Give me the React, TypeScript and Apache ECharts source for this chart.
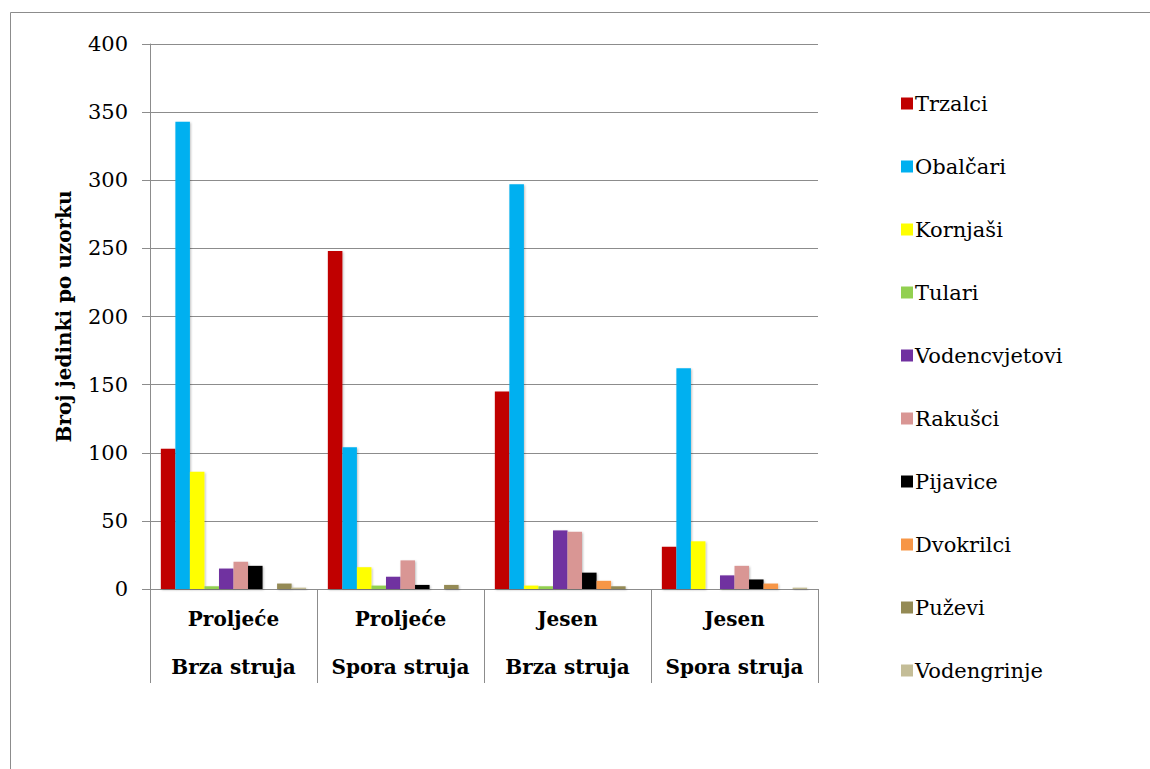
import React, { useEffect, useRef } from "react";
import * as echarts from "echarts";

const categories = ["Proljeće\nBrza struja", "Proljeće\nSpora struja", "Jesen\nBrza struja", "Jesen\nSpora struja"];
const seriesNames = ["Trzalci", "Obalčari", "Kornjaši", "Tulari", "Vodencvjetovi", "Rakušci", "Pijavice", "Dvokrilci", "Puževi", "Vodengrinje"];
const colors = ["#C00000", "#00B0F0", "#FFFF00", "#92D050", "#7030A0", "#D99694", "#000000", "#F79646", "#948A54", "#C4BD97"];
const trzalci = [103, 248, 145, 31];
const obalcari = [343, 104, 297, 162];
const kornjasi = [86, 16, 2.5, 35];
const tulari = [2, 2.5, 2, 0];
const vodencvjetovi = [15, 9, 43, 10];
const rakusci = [20, 21, 42, 17];
const pijavice = [17, 3, 12, 7];
const dvokrilci = [0, 0, 6, 4];
const puzevi = [4, 3, 2, 0];
const vodengrinje = [1, 0, 0, 1];
const seriesValues = [trzalci, obalcari, kornjasi, tulari, vodencvjetovi, rakusci, pijavice, dvokrilci, puzevi, vodengrinje];
const yTicks = { min: 0, max: 400, interval: 50 };
const axisTitle = "Broj jedinki po uzorku";

const FONT = "DejaVu Serif";

export default function App() {
  const ref = useRef<HTMLDivElement>(null);
  useEffect(() => {
    if (!ref.current) return;
    const chart = echarts.init(ref.current, null, { renderer: "svg" });
    chart.setOption({
      animation: false,
      backgroundColor: "#fff",
      textStyle: { fontFamily: FONT },
      graphic: [
        {
          type: "rect",
          shape: { x: 10.5, y: 12.5, width: 1200, height: 800 },
          style: { fill: "none", stroke: "#8c8c8c", lineWidth: 1 },
        },
      ],
      grid: { left: 150, right: 332, top: 44, bottom: 180 },
      legend: {
        orient: "vertical",
        left: 896,
        top: 88,
        itemWidth: 12,
        itemHeight: 12,
        itemGap: 42,
        icon: "rect",
        textStyle: { fontFamily: FONT, fontSize: 21, color: "#000", padding: [0, 0, 0, -3] },
        data: seriesNames,
      },
      xAxis: {
        type: "category",
        data: categories,
        axisLine: { show: true, lineStyle: { color: "#8c8c8c", width: 1 } },
        axisTick: { show: true, interval: 0, length: 94, lineStyle: { color: "#8c8c8c", width: 1 } },
        axisLabel: {
          interval: 0,
          hideOverlap: false,
          fontFamily: FONT,
          fontSize: 20,
          fontWeight: "bold",
          color: "#000",
          lineHeight: 48,
          margin: 6,
        },
      },
      yAxis: {
        type: "value",
        min: yTicks.min,
        max: yTicks.max,
        interval: yTicks.interval,
        name: axisTitle,
        nameLocation: "middle",
        nameGap: 76,
        nameTextStyle: { fontFamily: FONT, fontSize: 20, fontWeight: "bold", color: "#000" },
        axisLine: { show: true, lineStyle: { color: "#8c8c8c", width: 1 } },
        axisTick: { show: true, length: 8, lineStyle: { color: "#8c8c8c" } },
        axisLabel: { fontFamily: FONT, fontSize: 21, color: "#000", margin: 22 },
        splitLine: { show: true, lineStyle: { color: "#8c8c8c", width: 1 } },
      },
      series: seriesNames.map((name, i) => ({
        name,
        type: "bar",
        data: seriesValues[i],
        barGap: "0%",
        barCategoryGap: "13%",
        itemStyle: {
          color: colors[i],
          shadowColor: "rgba(0,0,0,0.25)",
          shadowBlur: 2,
          shadowOffsetX: 1,
          shadowOffsetY: 1,
        },
      })),
    });
    return () => chart.dispose();
  }, []);
  return (
    <div
      ref={ref}
      style={{ position: "fixed", left: 0, top: 0, width: 1150, height: 769 }}
    />
  );
}
